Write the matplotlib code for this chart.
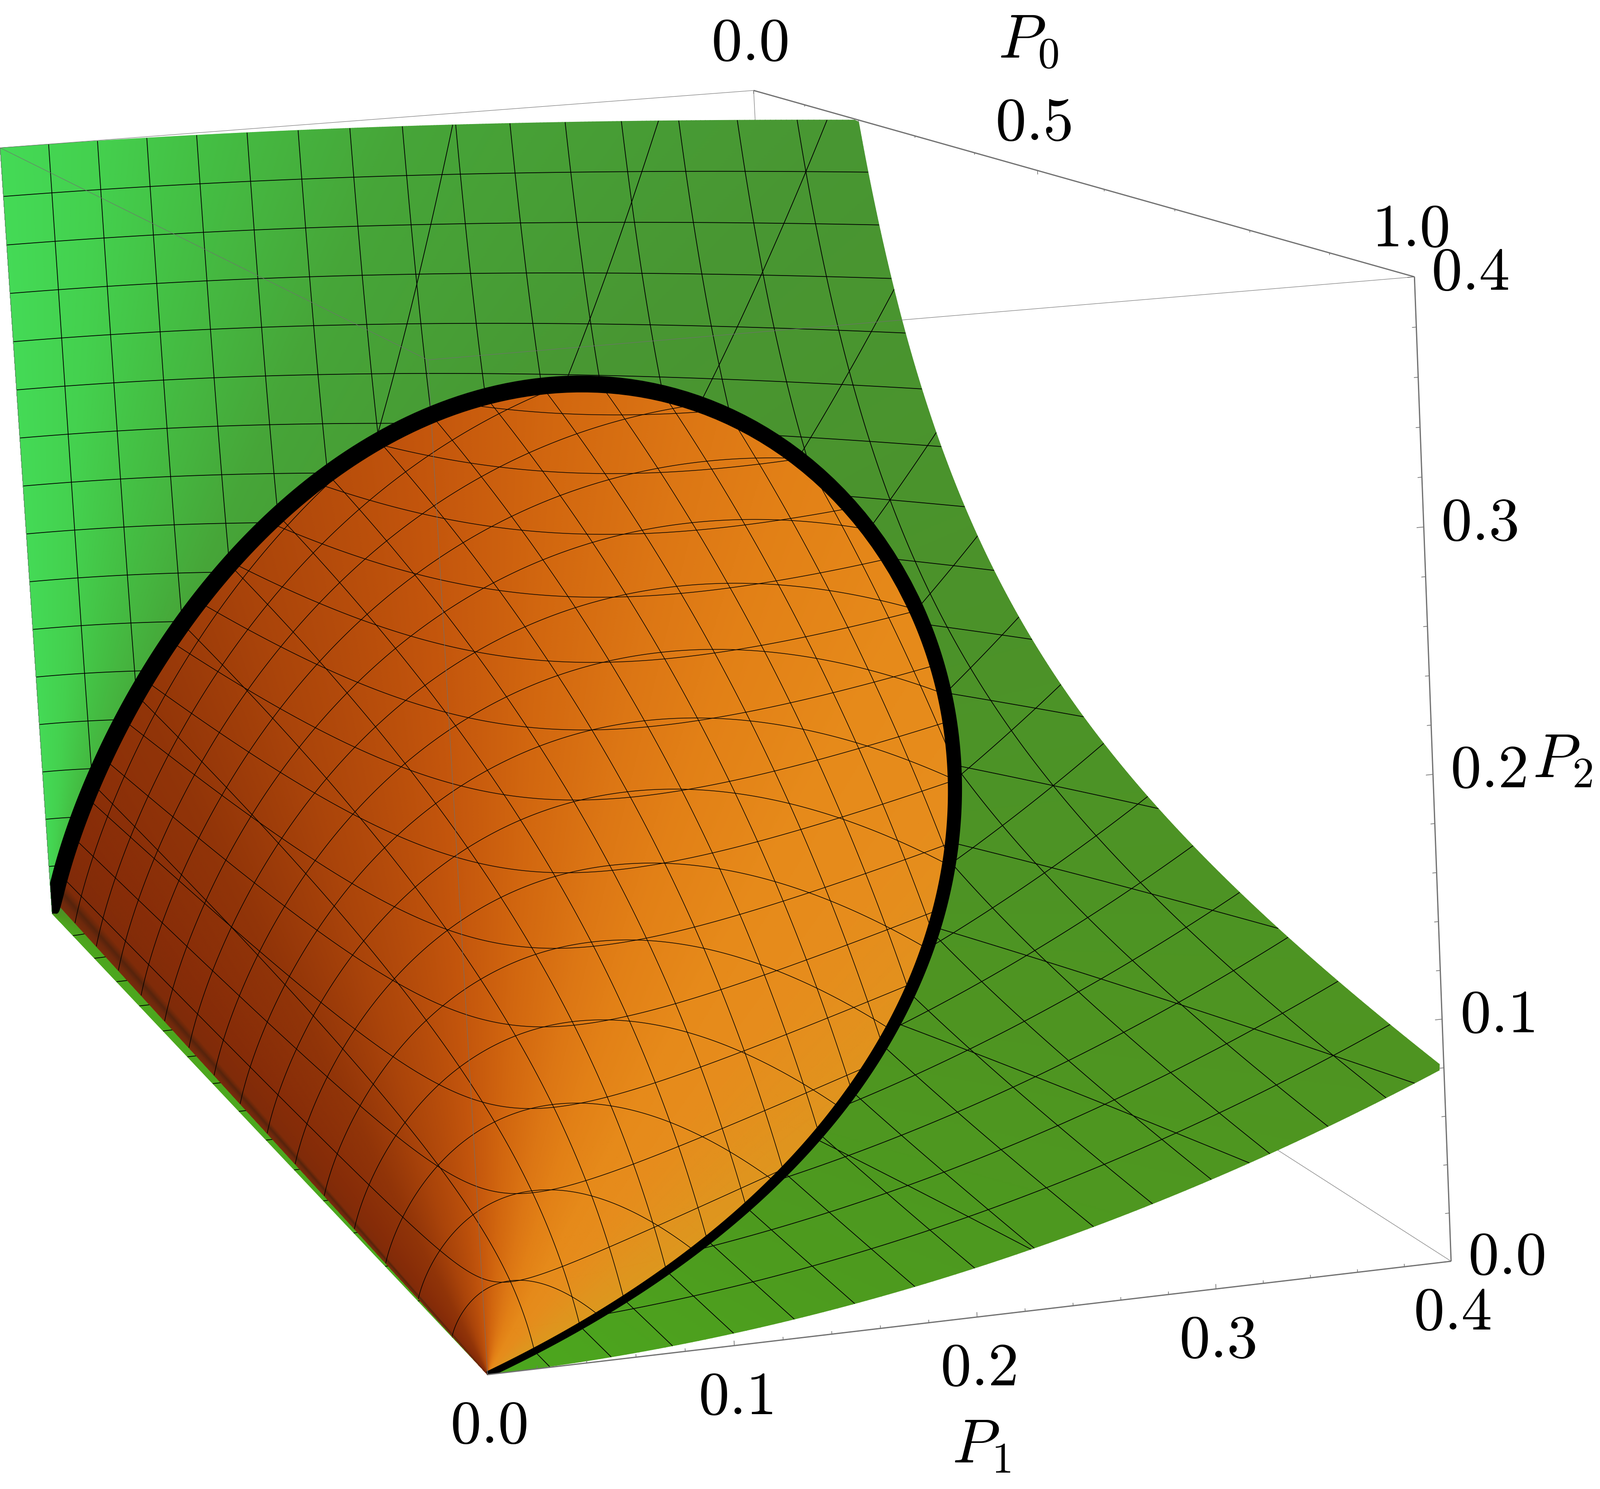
import numpy as np
import matplotlib
matplotlib.use("Agg")
import matplotlib.pyplot as plt
from matplotlib.colors import LinearSegmentedColormap, Normalize
from matplotlib.patches import Polygon

plt.rcParams['mathtext.fontset'] = 'cm'

# ---- axis ranges, ticks, labels -------------------------------------------
P0_RANGE = (0.0, 1.0)
P1_RANGE = (0.0, 0.4)
P2_RANGE = (0.0, 0.4)
p0_major = [0.0, 0.5, 1.0]
p1_major = [0.0, 0.1, 0.2, 0.3, 0.4]
p2_major = [0.0, 0.1, 0.2, 0.3, 0.4]
p0_minor = [0.1, 0.2, 0.3, 0.4, 0.6, 0.7, 0.8, 0.9]
p1_minor = [0.02, 0.04, 0.06, 0.08, 0.12, 0.14, 0.16, 0.18, 0.22, 0.24, 0.26, 0.28, 0.32, 0.34, 0.36, 0.38]
p2_minor = p1_minor
p0_mesh = [k / 16 for k in range(1, 16)]
p1_mesh = [k * 0.025 for k in range(1, 16)]
p2_mesh = [k * 0.025 for k in range(1, 16)]
p2_mesh_orange = [k * 0.02 for k in range(1, 14)]

# ---- camera: box corners (P0,P1,P2) and where they fall on the canvas ------
corner_values = [(0, 0, .4), (0, .4, .4), (1, .4, .4), (1, 0, .4), (1, 0, 0), (1, .4, 0), (0, 0, 0)]
corner_pixels = [(0, 335), (1701, 205), (3192, 626), (966, 813), (1100, 3104), (3275, 2848), (118, 2063)]

# ---- shading along the surface rays ----------------------------------------
green_mean = [0.0, 0.15, 0.4, 1.0, 2.0, 4.0, 8.0, 16.0, 1e9]
green_rgb = [(76, 168, 30), (77, 155, 30), (78, 148, 33), (75, 146, 42), (72, 150, 50),
             (70, 165, 56), (68, 192, 68), (68, 208, 78), (68, 218, 86)]
orange_mean = [0.0, 0.3, 0.7, 1.0, 1.4, 1.7, 2.1, 2.6, 3.5, 4.5, 6.0, 7.3, 7.7, 8.05, 8.6]
orange_rgb = [(218, 155, 32), (224, 148, 30), (230, 140, 28), (230, 138, 26), (226, 128, 22),
              (220, 118, 20), (210, 103, 15), (195, 85, 12), (170, 68, 10), (145, 52, 8),
              (135, 44, 8), (128, 43, 9), (88, 36, 12), (110, 41, 12), (120, 44, 12)]
tube_mean = [0.0, 0.1, 0.3, 0.5, 1.0, 2.0, 4.0, 8.0, 10.0, 14.0, 40.0]
tube_width = [15, 19, 26, 30, 35, 38, 40, 36, 31, 17, 14]


def fit_camera(values, pixels):
    rows = []
    for (a, b, c), (x, y) in zip(values, pixels):
        v = [a, b / .4, c / .4, 1.0]
        x, y = x / 3000, y / 3000
        rows.append(v + [0, 0, 0, 0] + [-x * t for t in v])
        rows.append([0, 0, 0, 0] + v + [-y * t for t in v])
    return np.linalg.svd(np.array(rows))[2][-1].reshape(3, 4)


CAM = fit_camera(corner_values, corner_pixels)


def project(p0, p1, p2):
    p0, p1, p2 = np.asarray(p0, float), np.asarray(p1, float), np.asarray(p2, float)
    q = [CAM[i, 0] * p0 + CAM[i, 1] * p1 / .4 + CAM[i, 2] * p2 / .4 + CAM[i, 3] for i in range(3)]
    return 3000 * q[0] / q[2], 3000 * q[1] / q[2]


def ramp(xs, rgbs):
    xs = np.array(xs, float)
    pos = xs / (1 + xs)
    pos[-1] = 1.0 if xs[-1] > 1e6 else pos[-1]
    pos = (pos - pos[0]) / (pos[-1] - pos[0])
    return LinearSegmentedColormap.from_list('r', [(p, tuple(c / 255 for c in rgb)) for p, rgb in zip(pos, rgbs)], N=4096)


fig = plt.figure(figsize=(36.11, 33.62), dpi=100)
ax = fig.add_axes([0, 0, 1, 1])
ax.set_xlim(0, 3611)
ax.set_ylim(3362, 0)
ax.axis('off')

GRAY = '#707070'
THIN = 0.75
THICK = 2.0


def edge(a, b, lw=THIN, z=1, c=GRAY):
    x, y = project(*zip(a, b))
    ax.plot(x, y, color=c, lw=lw, zorder=z, solid_capstyle='butt')


# box edges behind the surface
edge((0, .4, .4), (0, .4, 0), z=1)
edge((0, .4, 0), (1, .4, 0), z=1)
edge((0, 0, 0), (0, .4, 0), z=1)

# ---- green surface: P2 = P1^2 / (2 P0) --------------------------------------
b = np.linspace(0, 1, 900)
a = 1 - (1 - b) ** 2.2
t = np.linspace(0, 1, 320)
d0, d1, d2 = (1 - a) ** 2, a * (1 - a), a ** 2 / 2
with np.errstate(divide='ignore'):
    rmax = np.minimum.reduce([P0_RANGE[1] / d0, P1_RANGE[1] / d1, P2_RANGE[1] / d2])
R = np.outer(rmax, t)
G0, G1, G2 = R * d0[:, None], R * d1[:, None], R * d2[:, None]
GX, GY = project(G0, G1, G2)
ax.pcolormesh(GX, GY, np.outer(a, np.ones_like(t)), shading='gouraud',
              cmap=ramp(green_mean, green_rgb), norm=Normalize(0, 1), zorder=2, rasterized=False)
for arr, lev in ((G0, p0_mesh), (G1, p1_mesh), (G2, p2_mesh)):
    ax.contour(GX, GY, arr, levels=lev, colors='k', linewidths=1.2, zorder=3)
edge((0, 0, .4), (1, 0, .4), z=4)
edge((1, 0, .4), (1, .4, .4), z=4)
edge((0, 0, .4), (0, .4, .4), z=4)
edge((0, 0, 0), (0, 0, .4), z=4)

# ---- orange surface: chords from (1,0,0) to the Poisson curve ---------------
MU_MAX = orange_mean[-1]
c = np.linspace(0, 1, 800)
mu = MU_MAX * c ** 1.6
lam = np.linspace(0, 1, 320)
pp0, pp1, pp2 = np.exp(-mu), mu * np.exp(-mu), mu ** 2 * np.exp(-mu) / 2
L = lam[None, :]
O0 = 1 + (pp0[:, None] - 1) * L
O1 = pp1[:, None] * L
O2 = pp2[:, None] * L
OX, OY = project(O0, O1, O2)
shade = np.outer(mu / (1 + mu), np.ones_like(lam))
ax.pcolormesh(OX, OY, shade, shading='gouraud', cmap=ramp(orange_mean, orange_rgb),
              norm=Normalize(0, MU_MAX / (1 + MU_MAX)), zorder=5)
for arr, lev in ((O0, p0_mesh), (O1, p1_mesh), (O2, p2_mesh_orange)):
    ax.contour(OX, OY, arr, levels=lev, colors='k', linewidths=1.0, zorder=6)
edge((1, 0, .4), (1, 0, 0), z=7)

# ---- Poisson curve as a thick tube, kept inside the box outline --------------
m = np.concatenate([np.linspace(0, 1, 300), np.linspace(1, 40, 1200)[1:]])
bx, by = project(np.exp(-m), m * np.exp(-m), m ** 2 * np.exp(-m) / 2)
tx, ty = np.gradient(bx, m), np.gradient(by, m)
n = np.hypot(tx, ty)
nx, ny = -ty / n, tx / n
w = np.interp(m, tube_mean, tube_width) / 2
tube = ax.fill(np.r_[bx + nx * w, (bx - nx * w)[::-1]], np.r_[by + ny * w, (by - ny * w)[::-1]],
               color='k', lw=0, zorder=8)[0]
hx, hy = project(*zip((0, 0, .4), (0, 0, 0), (1, 0, 0), (1, .4, 0), (1, .4, .4), (0, .4, .4)))
tube.set_clip_path(Polygon(np.c_[hx, hy], transform=ax.transData))

# ---- axes with ticks ---------------------------------------------------------
edge((0, .4, .4), (1, .4, .4), lw=THICK, z=9)
edge((1, 0, 0), (1, .4, 0), lw=THICK, z=9)
edge((1, .4, 0), (1, .4, .4), lw=THICK, z=9)

for v, ln in [(v, .0018) for v in p0_major] + [(v, .0009) for v in p0_minor]:
    edge((v, .4, .4), (v, .4, .4 - ln), lw=1.1, z=9)
for v, ln in [(v, .0020) for v in p1_major] + [(v, .0012) for v in p1_minor]:
    edge((1, v, 0), (1, v, ln), lw=1.1, z=9)
for v, ln in [(v, .0030) for v in p2_major] + [(v, .0018) for v in p2_minor]:
    edge((1, .4, v), (1, .4 - ln, v), lw=1.1, z=9)

FS = 100
for v in p0_major:
    x, y = project(v, .4, .4)
    ax.text(x - 9, y - 108, rf'${v:.1f}$', fontsize=FS, ha='center', va='center', zorder=10)
for v in p1_major:
    x, y = project(1, v, 0)
    ax.text(x + 3, y + 115, rf'${v:.1f}$', fontsize=FS, ha='center', va='center', zorder=10)
for v in p2_major:
    x, y = project(1, .4, v)
    ax.text(x + 125, y - 10, rf'${v:.1f}$', fontsize=FS, ha='center', va='center', zorder=10)

ax.text(2321, 92, r'$P_0$', fontsize=FS, ha='center', va='center', zorder=10)
ax.text(2215, 3263, r'$P_1$', fontsize=FS, ha='center', va='center', zorder=10)
ax.text(3526, 1716, r'$P_2$', fontsize=FS, ha='center', va='center', zorder=10)

fig.savefig('out.png', dpi=100)
